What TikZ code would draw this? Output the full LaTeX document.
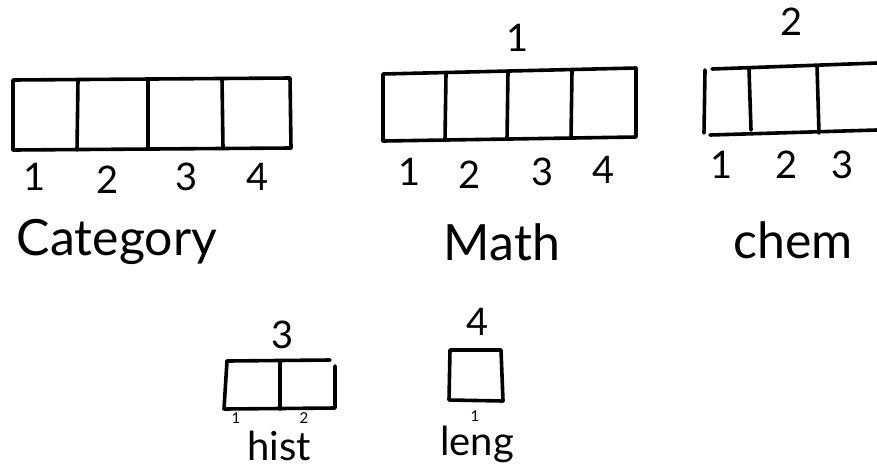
\documentclass[tikz,border=0pt]{standalone}
\usepackage{fontspec}
\setmainfont{Lato}
\begin{document}
\begin{tikzpicture}[x=1pt,y=-1pt,
  ink/.style={line width=3.6pt,line cap=round,line join=round,black},
  bignum/.style={inner sep=0pt,font=\fontsize{38}{40}\selectfont},
  smallnum/.style={inner sep=0pt,font=\fontsize{15}{17}\selectfont},
  word/.style={inner sep=0pt,font=\fontsize{50}{54}\selectfont},
  smallword/.style={inner sep=0pt,font=\fontsize{40}{44}\selectfont}]
\useasboundingbox (0,0) rectangle (877,472);
% Category
\draw[ink] (13,80) -- (290,78) -- (291,148) -- (13,150) -- cycle;
\draw[ink] (78,80) -- (77,150);
\draw[ink] (148,79) -- (148,149);
\draw[ink] (222,79) -- (223,148);
\node[bignum] (c1) at (35,177) {1};
\node[bignum] (c2) at (108,180) {2};
\node[bignum] (c3) at (187,177) {3};
\node[bignum] (c4) at (258,177) {4};
\node[word] (cat) at (117,242) {Category};
% Math
\node[bignum] (mtop) at (518,38) {1};
\draw[ink] (383,74) -- (636,68) -- (636,137) -- (383,141) -- cycle;
\draw[ink] (446,74) -- (445,140);
\draw[ink] (508,72) -- (507,139);
\draw[ink] (572,71) -- (571,138);
\node[bignum] (m1) at (410,172) {1};
\node[bignum] (m2) at (470,175) {2};
\node[bignum] (m3) at (543,172) {3};
\node[bignum] (m4) at (604,170) {4};
\node[word] (math) at (502,242) {Math};
% chem
\node[bignum] (htop) at (792,22) {2};
\draw[ink] (705,70) -- (704,133);
\draw[ink] (712,69) -- (877,63);
\draw[ink] (710,135) -- (877,130);
\draw[ink] (749,69) -- (751,130);
\draw[ink] (817,66) -- (819,133);
\node[bignum] (h1) at (722,165) {1};
\node[bignum] (h2) at (787,165) {2};
\node[bignum] (h3) at (843,165) {3};
\node[word] (chem) at (793,240) {chem};
% hist
\node[bignum] (stop) at (283,335) {3};
\draw[ink] (227,361) -- (330,360);
\draw[ink] (227,361) -- (224,409) -- (335,408) -- (335,366);
\draw[ink] (280,361) -- (280,409);
\node[smallnum] (s1) at (236,418) {1};
\node[smallnum] (s2) at (304,418) {2};
\node[smallword] (hist) at (279,446) {hist};
% leng
\node[bignum] (ltop) at (478,322) {4};
\draw[ink] (450,350) -- (501,350) -- (503,401) -- (449,400) -- cycle;
\node[smallnum] (l1) at (475,416) {1};
\node[smallword] (leng) at (477,444) {leng};
\end{tikzpicture}
\end{document}
